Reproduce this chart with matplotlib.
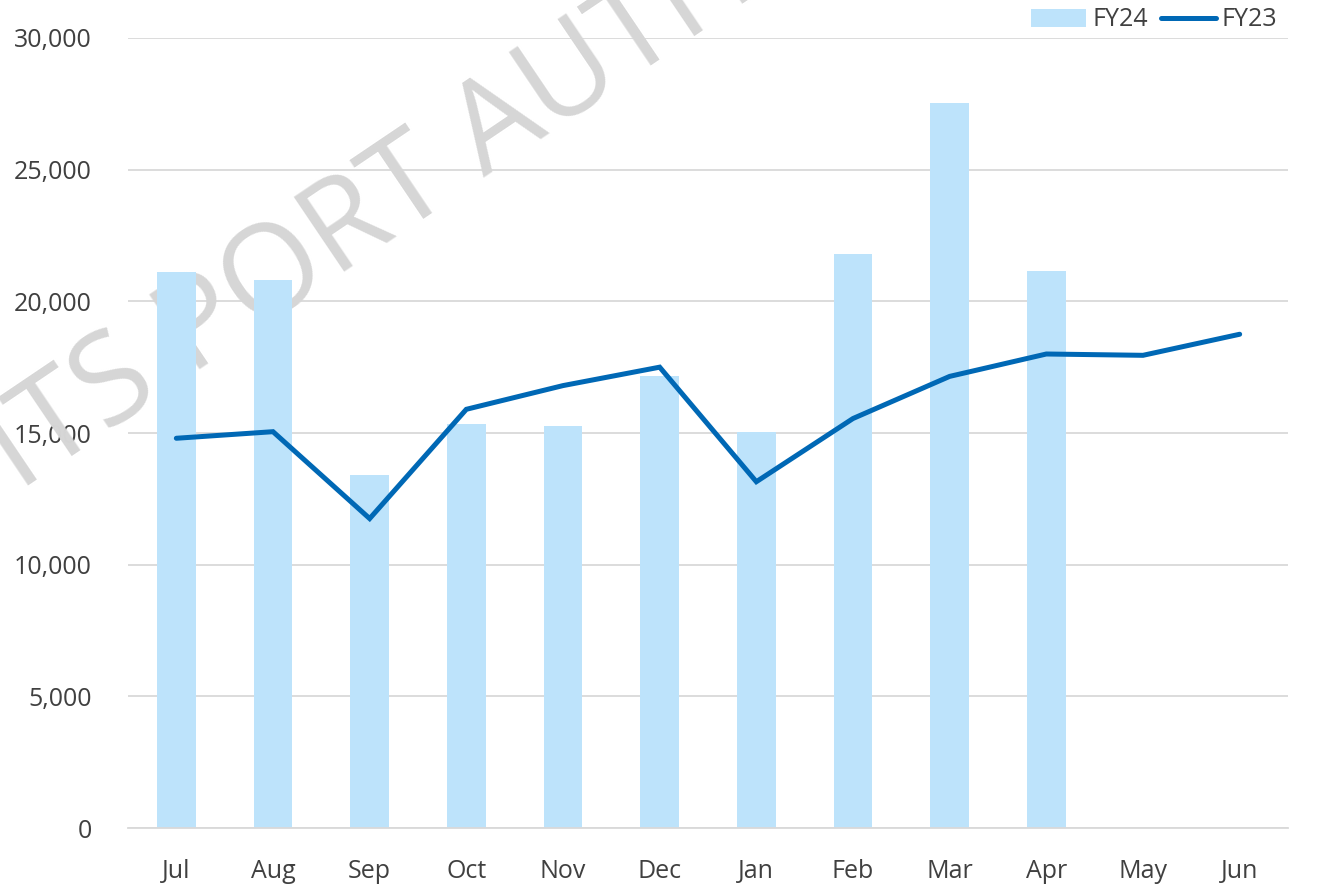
import numpy as np
import matplotlib.pyplot as plt
from matplotlib.ticker import FuncFormatter

# monthly values
months = ['Jul', 'Aug', 'Sep', 'Oct', 'Nov', 'Dec', 'Jan', 'Feb', 'Mar', 'Apr', 'May', 'Jun']
fy24 = [21100, 20800, 13400, 15350, 15250, 17150, 15050, 21800, 27550, 21150]
fy23 = [14800, 15050, 11750, 15900, 16800, 17500, 13150, 15550, 17150, 18000, 17950, 18750]

plt.rcParams['font.family'] = ['Open Sans', 'DejaVu Sans']

W, H = 1317, 886
fig = plt.figure(figsize=(W / 100, H / 100), dpi=100)
ax = fig.add_axes([128/W, 1 - 828/H, (1288 - 128)/W, (828 - 38)/H])

x = np.arange(len(months))
bars = ax.bar(x[:len(fy24)], fy24, width=0.40, color='#BDE3FB', label='FY24', zorder=2)
line, = ax.plot(x, fy23, color='#0068B5', linewidth=3.6, solid_capstyle='round',
                solid_joinstyle='miter', label='FY23', zorder=3)

ax.set_xlim(-0.5, len(months) - 0.5)
ax.set_ylim(0, 30000)
ax.set_yticks(range(0, 30001, 5000))
ax.yaxis.set_major_formatter(FuncFormatter(lambda v, p: f'{int(v):,}'))
ax.set_xticks(x)
ax.set_xticklabels(months)

# gridlines & spines
ax.grid(axis='y', color='#D9D9D9', linewidth=1.3, zorder=0)
ax.set_axisbelow(True)
for s in ['top', 'right', 'left']:
    ax.spines[s].set_visible(False)
ax.spines['bottom'].set_color('#D9D9D9')
ax.spines['bottom'].set_linewidth(1.3)
ax.tick_params(axis='both', length=0, labelsize=18, colors='#404040')
ax.tick_params(axis='x', pad=22)
ax.tick_params(axis='y', pad=26)

# legend above the plot, top right
fig.legend([bars, line], ['FY24', 'FY23'], loc='center right',
           bbox_to_anchor=(1290/W, 1 - 20/H), ncol=2,
           frameon=False, fontsize=18, handlelength=2.2, handleheight=0.75,
           handletextpad=0.25, columnspacing=0.5, borderpad=0, labelcolor='#404040')

# watermark, behind the bars
wm_text = 'ITS PORT AUTHORITY'
wm_size = 91
ang = np.deg2rad(34)
renderer = fig.canvas.get_renderer()


def advance(s):
    t1 = fig.text(0, 0, 'H' + s + 'H', fontsize=wm_size)
    t2 = fig.text(0, 0, 'HH', fontsize=wm_size)
    w = t1.get_window_extent(renderer).width - t2.get_window_extent(renderer).width
    t1.remove()
    t2.remove()
    return w


# distance from text start to the stem of the T in "PORT"
d = advance('ITS POR') + advance('T') / 2
tx, ty = 428, H - 216  # where that T stem meets the baseline (pixels, y up)
sx = tx - d * np.cos(ang)
sy = ty - d * np.sin(ang)
ax.text(sx / W, sy / H, wm_text, transform=fig.transFigure, fontsize=wm_size,
        color='#D6D6D6', rotation=34, rotation_mode='anchor',
        ha='left', va='baseline', zorder=1, clip_on=False)

fig.savefig('out.png', dpi=100)
